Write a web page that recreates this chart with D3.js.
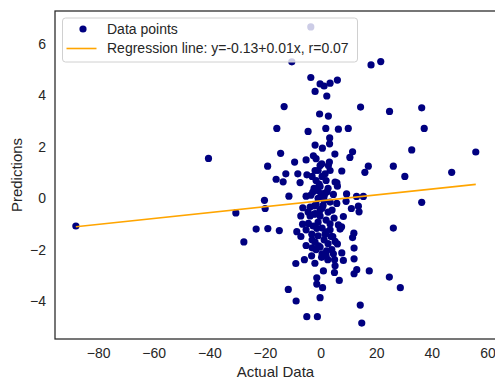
<!DOCTYPE html>
<html><head><meta charset="utf-8">
<script src="https://cdn.jsdelivr.net/npm/d3@7"></script>
<style>body{margin:0;background:#fff}svg{display:block}text{font-family:"Liberation Sans",Arial,sans-serif;fill:#262626}</style>
</head><body><div id="chart"></div>
<script>
// Actual data (x) values
const actualX = [-88.0,-40.31,-30.47,-23.17,-27.59,-20.19,-19.94,-18.97,-14.84,-19.04,-3.52,-10.35,-3.52,-0.18,1.26,3.41,6.04,-1.98,2.23,18.14,21.63,-13.11,-0.36,2.80,14.37,24.79,36.36,37.26,-15.74,-4.49,1.87,6.40,9.95,3.27,3.23,-1.98,0.65,-14.37,5.14,11.50,10.53,32.77,55.80,-2.59,-5.21,-9.34,3.16,0.43,17.17,26.16,7.62,15.92,30.29,47.14,-15.99,-12.50,-13.47,-8.19,-4.92,-7.37,-1.98,-0.18,1.62,5.86,-11.39,36.36,26.16,15.38,12.93,9.34,13.58,13.83,11.07,9.16,5.82,8.19,7.55,7.01,11.96,11.50,12.04,12.04,8.19,7.62,13.01,12.04,17.50,24.72,28.67,6.72,14.26,14.80,5.03,5.21,4.99,1.01,-1.37,-1.37,0.72,-0.18,-11.61,-8.80,-4.96,-1.15,-8.91,-5.82,-3.23,-2.05,2.59,4.02,4.60,-5.21,-1.98,-0.18,5.21,3.77,-8.55,-7.08,-3.16,-1.37,-7.11,-6.47,-6.40,-3.77,-3.52,-2.80,0.18,1.62,4.60,5.21,6.04,4.38,6.04,
 -0.90,0.54,-1.62,1.98,-0.18,-2.34,2.69,-0.90,1.26,3.41,-1.62,0.54,2.69,-2.34,-0.18,1.98,-0.90,-3.77,-5.21,3.41,0.54,1.98,-0.90,-3.05,1.26,2.69,-1.62,0.54,1.98,-3.05,-5.21,-4.49,4.13,4.85,3.41,-0.18,-2.69,1.26,-4.38,6.40,2.80,-1.62,-3.05,3.41,
 -0.54,2.34,-2.16,0.90,-1.08,1.62,-0.72,2.16,-1.80,0.36];
// Predictions (y) values
const predictedY = [-1.08,1.55,-0.57,-1.20,-1.70,-0.08,-0.40,-1.18,-1.26,1.25,6.67,5.31,4.70,4.45,4.37,4.48,4.60,4.16,3.98,5.19,5.32,3.57,3.28,3.20,3.55,3.38,3.52,2.72,2.72,2.60,2.72,2.69,2.72,2.35,2.12,2.07,1.95,1.75,1.72,1.81,1.59,1.88,1.80,1.65,1.49,1.41,1.41,1.34,1.25,1.25,1.06,1.01,0.85,1.01,0.74,0.95,0.64,0.95,0.91,0.61,1.08,1.27,0.95,0.60,0.08,-0.16,-1.16,0.07,0.07,0.17,-0.31,-0.53,-0.40,-0.12,-0.20,-0.71,-1.11,-1.20,-1.36,-1.53,-1.94,-2.36,-2.42,-2.13,-2.78,-2.94,-2.83,-3.07,-3.48,-3.20,-4.16,-4.86,-2.39,-2.63,-2.89,-2.83,-3.10,-3.34,-3.48,-3.87,-3.55,-4.00,-4.61,-4.61,-2.54,-2.39,-2.24,-2.53,-2.39,-2.00,-2.16,-1.84,-1.71,-1.90,-1.68,-1.49,-1.30,-1.49,-1.40,-1.17,-0.69,-1.01,-0.37,-0.34,0.12,0.24,0.18,0.20,0.15,0.63,0.47,-1.49,-1.78,
 1.08,0.85,0.69,0.69,0.46,0.39,0.39,0.00,-0.08,-0.15,-0.23,-0.39,-0.54,-0.62,-0.69,-0.85,-0.93,-0.69,0.08,-1.00,-1.16,-1.31,-1.46,-1.62,-1.62,-1.77,-2.00,-2.16,-2.24,-1.93,-1.23,-0.54,-0.46,-0.77,-1.23,-0.46,-1.08,0.08,-0.98,-1.04,1.27,1.54,0.85,1.08,
 0.55,0.25,-0.30,-0.28,0.30,-1.40,-1.85,-2.05,-0.60,-2.30];
// Regression line coefficients (as drawn)
const lineIntercept = -0.10;
const lineSlope = 0.0115;
const xTicks = [-80,-60,-40,-20,0,20,40,60];
const yTicks = [-4,-2,0,2,4,6];
const xDomain = [-95.5, 63.0];
const yDomain = [-5.48, 7.29];
const legendLabels = ["Data points", "Regression line: y=-0.13+0.01x, r=0.07"];
const axisLabels = {x: "Actual Data", y: "Predictions"};

const W = 495, H = 381;
const m = {left: 55, right: 495.8, top: 11, bottom: 339};
const svg = d3.select("#chart").append("svg").attr("width", W).attr("height", H);
const x = d3.scaleLinear().domain(xDomain).range([m.left, m.right]);
const y = d3.scaleLinear().domain(yDomain).range([m.bottom, m.top]);
const fmt = d => (d < 0 ? "\u2212" + Math.abs(d) : "" + d);

const data = actualX.map((v, i) => ({x: v, y: predictedY[i]}));

svg.append("g").selectAll("circle").data(data).join("circle")
  .attr("cx", d => x(d.x)).attr("cy", d => y(d.y)).attr("r", 3.6)
  .attr("fill", "#000080");

const xmin = d3.min(actualX), xmax = d3.max(actualX);
svg.append("line")
  .attr("x1", x(xmin)).attr("y1", y(lineIntercept + lineSlope * xmin))
  .attr("x2", x(xmax)).attr("y2", y(lineIntercept + lineSlope * xmax))
  .attr("stroke", "#FFA500").attr("stroke-width", 1.6);

// axes (labels only, no tick marks)
const gx = svg.append("g").attr("transform", `translate(0,${m.bottom})`)
  .call(d3.axisBottom(x).tickValues(xTicks).tickFormat(fmt).tickSize(0).tickPadding(9));
const gy = svg.append("g").attr("transform", `translate(${m.left},0)`)
  .call(d3.axisLeft(y).tickValues(yTicks).tickFormat(fmt).tickSize(0).tickPadding(9));
[gx, gy].forEach(g => { g.select(".domain").remove(); g.selectAll("text").attr("font-size", 14).attr("fill", "#262626").attr("font-family", '"Liberation Sans",Arial,sans-serif'); });

// spines
svg.append("rect").attr("x", m.left).attr("y", m.top)
  .attr("width", m.right - m.left).attr("height", m.bottom - m.top)
  .attr("fill", "none").attr("stroke", "#262626").attr("stroke-width", 1.25);

// axis labels
svg.append("text").attr("x", (m.left + m.right) / 2).attr("y", 377)
  .attr("text-anchor", "middle").attr("font-size", 15).text(axisLabels.x);
svg.append("text").attr("transform", `translate(22,${(m.top + m.bottom) / 2}) rotate(-90)`)
  .attr("text-anchor", "middle").attr("font-size", 15).text(axisLabels.y);

// legend
const lg = svg.append("g");
lg.append("rect").attr("x", 62.5).attr("y", 18).attr("width", 295).attr("height", 44).attr("rx", 3)
  .attr("fill", "#fff").attr("fill-opacity", 0.8).attr("stroke", "#d0d0d0").attr("stroke-width", 1);
lg.append("circle").attr("cx", 83).attr("cy", 29).attr("r", 3.6).attr("fill", "#000080");
lg.append("line").attr("x1", 66.5).attr("x2", 96.5).attr("y1", 48.5).attr("y2", 48.5)
  .attr("stroke", "#FFA500").attr("stroke-width", 1.6);
lg.selectAll("text.lab").data(legendLabels).join("text").attr("class", "lab")
  .attr("x", 107).attr("y", (d, i) => 29 + i * 19.5).attr("dy", "0.35em")
  .attr("font-size", 14).text(d => d);
</script></body></html>
